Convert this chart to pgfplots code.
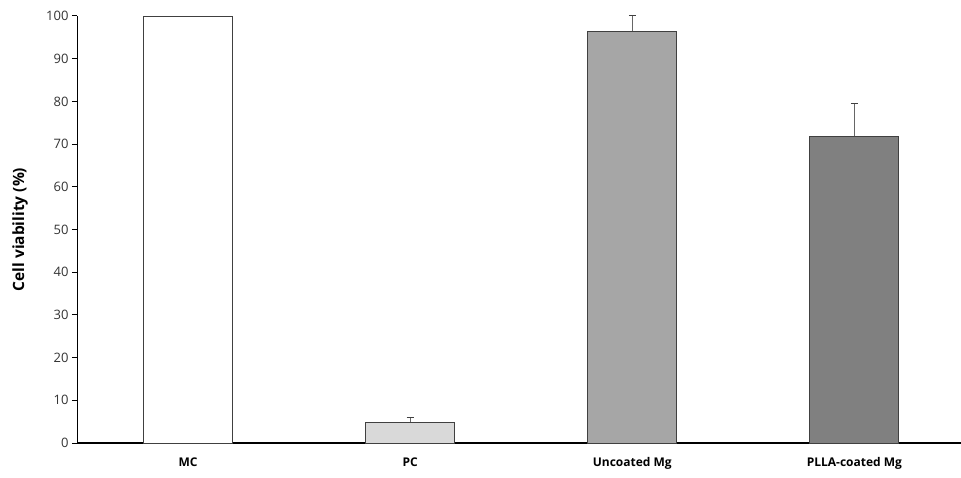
\documentclass[border=0pt]{standalone}
\usepackage{pgfplots}
\pgfplotsset{compat=1.18}
\usepackage{fontspec}
\setmainfont{Open Sans}
\begin{document}
\begin{tikzpicture}[x=1pt,y=1pt]
\useasboundingbox (0,0) rectangle (961,477);
\begin{axis}[
  at={(77pt,34pt)}, anchor=south west,
  scale only axis, width=884pt, height=427pt,
  xmin=-0.5, xmax=3.48, ymin=0, ymax=100,
  axis x line*=bottom, axis y line*=left,
  x axis line style={line width=1.6pt, -},
  y axis line style={line width=1pt, -},
  xtick={0,1,2,3},
  xticklabels={MC,PC,Uncoated Mg,PLLA-coated Mg},
  x tick label style={font=\fontsize{12}{14}\selectfont\bfseries, yshift=-6pt},
  major x tick style={draw=none},
  ytick={0,10,...,100},
  y tick label style={font=\fontsize{13}{15}\selectfont, text=black!80},
  tick align=outside, major tick length=5pt,
  y tick style={line width=1pt, black},
  /pgf/number format/assume math mode=true,
  ylabel={\bfseries Cell viability (\%)},
  ylabel style={font=\fontsize{15.5}{17}\selectfont, at={(axis description cs:0,0.5)}, anchor=center, yshift=57pt},
  ybar, bar width=89pt, bar shift=0pt,
  error bars/y dir=plus, error bars/y explicit,
  error bars/error bar style={black!60, line width=1.3pt},
  error bars/error mark options={black!75, line width=1pt, mark size=3.5pt, rotate=90},
]
\addplot[fill=white, draw=black!75, line width=0.9pt] coordinates {(0,100)};
\addplot[fill=black!15, draw=black!75, line width=0.9pt] coordinates {(1,4.9) +- (0,1.0)};
\addplot[fill=black!35, draw=black!75, line width=0.9pt] coordinates {(2,96.4) +- (0,3.8)};
\addplot[fill=black!50, draw=black!75, line width=0.9pt] coordinates {(3,71.8) +- (0,7.7)};
\end{axis}
\end{tikzpicture}
\end{document}
